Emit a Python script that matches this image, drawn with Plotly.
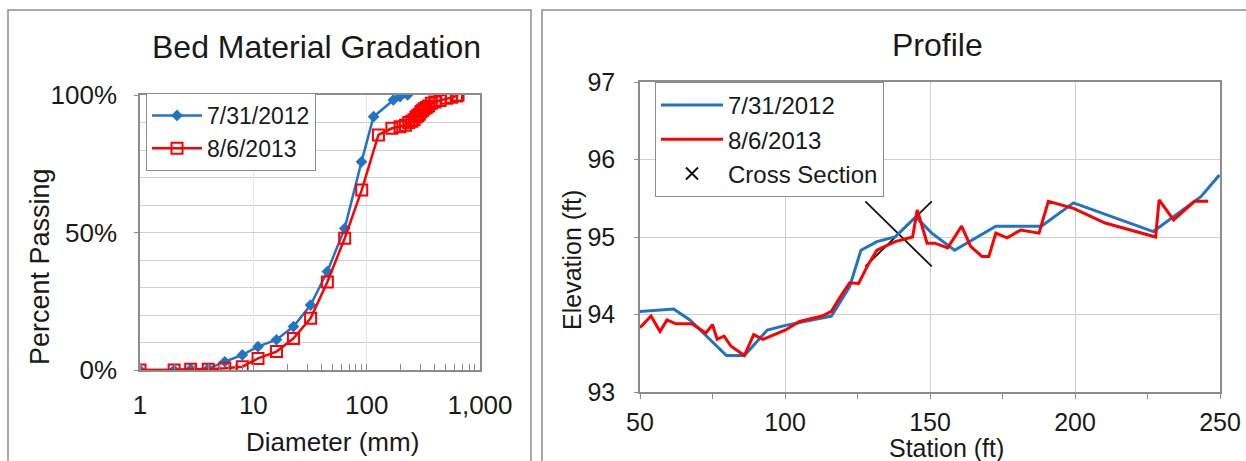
import plotly.graph_objects as go

# ---------------- data ----------------
# Bed material gradation
grad_d_2012 = [1, 2, 2.8, 4, 5.6, 8, 11, 16, 22.6, 32, 45, 64, 90, 115, 172, 197, 230]
grad_p_2012 = [0.0, 0.0, 0.003, 0.005, 0.03, 0.055, 0.085, 0.11, 0.158, 0.236, 0.358, 0.515, 0.757, 0.921, 0.982, 0.994, 1.0]

grad_d_2013 = [1, 2, 2.8, 4, 5.6, 8, 11, 16, 22.6, 32, 45, 64, 90.5, 127, 167, 197, 220, 235, 250, 262, 272, 282, 292,
               302, 312, 322, 336, 352, 372, 400, 445, 509, 560, 620, 640]
grad_p_2013 = [0.0, 0.0, 0.003, 0.003, 0.006, 0.012, 0.042, 0.067, 0.115, 0.188, 0.32, 0.479, 0.655, 0.855, 0.879, 0.885,
               0.89, 0.90, 0.905, 0.91, 0.92, 0.925, 0.93, 0.94, 0.945, 0.95, 0.955, 0.96, 0.97, 0.975, 0.98, 0.988,
               0.992, 0.996, 1.0]

# Profile
prof_sta_2012 = [50, 61.6, 67.2, 79.8, 86, 93.9, 100.2, 112.8, 116, 122.3, 126.2, 131.7, 137.9, 145.1, 150.6, 158.5,
                 172.7, 188.4, 199.5, 227, 234, 243.4, 249.8]
prof_elev_2012 = [94.04, 94.07, 93.93, 93.47, 93.47, 93.8, 93.86, 93.95, 93.98, 94.36, 94.83, 94.94, 95.0, 95.26,
                  95.05, 94.83, 95.14, 95.14, 95.44, 95.07, 95.26, 95.52, 95.8]

prof_sta_2013 = [50, 53.8, 56.9, 59.3, 62.4, 67.9, 72.7, 75, 76.6, 79, 81.4, 86, 89.2, 92.4, 100.2, 105, 112.8, 116,
                 119.1, 122.3, 125.4, 128.6, 131.7, 138, 144, 145.6, 149, 151.7, 156.1, 160.9, 164, 167.9, 170.3,
                 172.7, 176.6, 181.3, 187.6, 190.8, 199.5, 210.4, 227.8, 229, 234, 241.2, 245.9]
prof_elev_2013 = [93.83, 93.98, 93.78, 93.93, 93.88, 93.88, 93.76, 93.87, 93.68, 93.72, 93.59, 93.47, 93.74, 93.68,
                  93.8, 93.91, 93.98, 94.04, 94.23, 94.41, 94.4, 94.64, 94.83, 94.94, 95.0, 95.35, 94.92, 94.92,
                  94.86, 95.14, 94.88, 94.75, 94.75, 95.05, 94.99, 95.09, 95.05, 95.46, 95.37, 95.18, 95.0, 95.48,
                  95.22, 95.46, 95.46]

xsec_station = [127.7, 150.6]
xsec_elev = [94.62, 95.46]

left_xtick_vals = [1, 10, 100, 1000]
left_xtick_text = ["1", "10", "100", "1,000"]

# ---------------- layout helpers ----------------
W, H = 1246, 461
def px_x(v): return v / W
def px_y(v): return 1 - v / H

FONT = "Liberation Sans, Arial, sans-serif"
BLUE = "#1F74C6"
RED = "#FF0000"
GRID = "#CFCFCF"
AXIS = "#8C8C8C"
TXT = "#1a1a1a"

fig = go.Figure()

# left chart
fig.add_trace(go.Scatter(x=grad_d_2012, y=grad_p_2012, mode="lines+markers", name="7/31/2012",
                         line=dict(color=BLUE, width=2.5),
                         marker=dict(symbol="diamond", size=9, color=BLUE),
                         xaxis="x", yaxis="y", legend="legend"))
fig.add_trace(go.Scatter(x=grad_d_2013, y=grad_p_2013, mode="lines+markers", name="8/6/2013",
                         line=dict(color=RED, width=2.5),
                         marker=dict(symbol="square-open", size=11, color=RED, line=dict(width=2)),
                         xaxis="x", yaxis="y", legend="legend"))

# right chart
xs_x = [xsec_station[0], xsec_station[1], None, xsec_station[0], xsec_station[1]]
xs_y = [xsec_elev[1], xsec_elev[0], None, xsec_elev[0], xsec_elev[1]]
fig.add_trace(go.Scatter(x=xs_x, y=xs_y, mode="lines", line=dict(color="#111111", width=1.8),
                         showlegend=False, xaxis="x2", yaxis="y2", hoverinfo="skip"))
fig.add_trace(go.Scatter(x=prof_sta_2012, y=prof_elev_2012, mode="lines", name="7/31/2012",
                         line=dict(color=BLUE, width=3), xaxis="x2", yaxis="y2", legend="legend2"))
fig.add_trace(go.Scatter(x=prof_sta_2013, y=prof_elev_2013, mode="lines", name="8/6/2013",
                         line=dict(color=RED, width=3), xaxis="x2", yaxis="y2", legend="legend2"))
fig.add_trace(go.Scatter(x=[None], y=[None], mode="markers", name="Cross Section",
                         marker=dict(symbol="x-thin-open", size=12, color="#111111", line=dict(width=2, color="#111111")),
                         xaxis="x2", yaxis="y2", legend="legend2"))

tickfont = dict(family=FONT, size=26, color=TXT)
tickfont2 = dict(family=FONT, size=25, color=TXT)

fig.update_layout(
    width=W, height=H,
    margin=dict(l=0, r=0, t=0, b=0, autoexpand=False),
    paper_bgcolor="white", plot_bgcolor="white",
    font=dict(family=FONT, color=TXT),
    xaxis=dict(domain=[px_x(140), px_x(480)], type="log", range=[0, 3], automargin=False,
               tickvals=left_xtick_vals, ticktext=left_xtick_text, tickfont=tickfont,
               showgrid=True, gridcolor="#E6E6E6", gridwidth=1,
               showline=True, linecolor=AXIS, linewidth=1.5, mirror=True,
               ticks="", ticklabelstandoff=11,
               minor=dict(ticks="inside", ticklen=6, tickcolor=AXIS, dtick="D1", showgrid=False),
               anchor="y", zeroline=False),
    yaxis=dict(domain=[px_y(370), px_y(95)], range=[0, 1], dtick=0.5, tickformat=".0%", tickfont=tickfont,
               automargin=False,
               showgrid=True, gridcolor=GRID, gridwidth=1,
               minor=dict(dtick=0.1, showgrid=True, gridcolor=GRID, ticks=""),
               showline=True, linecolor=AXIS, linewidth=1.5, mirror=True,
               ticks="outside", ticklen=4, tickcolor=AXIS, ticklabelstandoff=12,
               anchor="x", zeroline=False),
    xaxis2=dict(domain=[px_x(640), px_x(1220)], range=[50, 250], dtick=50, tickfont=tickfont2,
                automargin=False,
                showgrid=True, gridcolor=GRID, gridwidth=1,
                showline=True, linecolor=AXIS, linewidth=1.5, mirror=True,
                ticks="outside", ticklen=5, tickcolor=AXIS, ticklabelstandoff=2,
                minor=dict(dtick=25, ticks="outside", ticklen=5, tickcolor=AXIS, showgrid=False),
                anchor="y2", zeroline=False),
    yaxis2=dict(domain=[px_y(392), px_y(82)], range=[93, 97], dtick=1, tickfont=tickfont2,
                automargin=False,
                showgrid=True, gridcolor=GRID, gridwidth=1,
                showline=True, linecolor=AXIS, linewidth=1.5, mirror=True,
                ticks="outside", ticklen=4, tickcolor=AXIS, ticklabelstandoff=14,
                anchor="x2", zeroline=False),
    legend=dict(x=px_x(146), y=px_y(93), xanchor="left", yanchor="top",
                bgcolor="white", bordercolor=AXIS, borderwidth=1,
                font=dict(family=FONT, size=23, color=TXT),
                tracegroupgap=0, itemwidth=50),
    legend2=dict(x=px_x(655), y=px_y(82), xanchor="left", yanchor="top",
                 bgcolor="white", bordercolor=AXIS, borderwidth=1,
                 font=dict(family=FONT, size=24, color=TXT),
                 tracegroupgap=0, itemwidth=62),
    showlegend=True,
)

# titles and axis titles
ann = [
    dict(text="Bed Material Gradation", x=316, y=47, size=32, angle=0),
    dict(text="Percent Passing", x=40, y=266, size=27, angle=-90),
    dict(text="Diameter (mm)", x=332, y=442, size=26, angle=0),
    dict(text="Profile", x=938, y=45, size=32, angle=0),
    dict(text="Elevation (ft)", x=572, y=260, size=25, angle=-90),
    dict(text="Station (ft)", x=946, y=448, size=25, angle=0),
]
for a in ann:
    fig.add_annotation(xref="paper", yref="paper", showarrow=False, xanchor="center", yanchor="middle",
                       text=a["text"], x=px_x(a["x"]), y=px_y(a["y"]), textangle=a["angle"],
                       font=dict(family=FONT, color=TXT, size=a["size"]))

# panel frames
fig.add_shape(type="rect", xref="paper", yref="paper", x0=px_x(8), x1=px_x(531), y0=-0.05, y1=px_y(10),
              line=dict(color="#8C8C8C", width=1.5), layer="below")
fig.add_shape(type="rect", xref="paper", yref="paper", x0=px_x(542), x1=1.05, y0=-0.05, y1=px_y(10),
              line=dict(color="#8C8C8C", width=1.5), layer="below")

fig.write_html("out.html", config={"displayModeBar": False},
               post_script="document.body.style.margin='0';document.body.style.overflow='hidden';")
